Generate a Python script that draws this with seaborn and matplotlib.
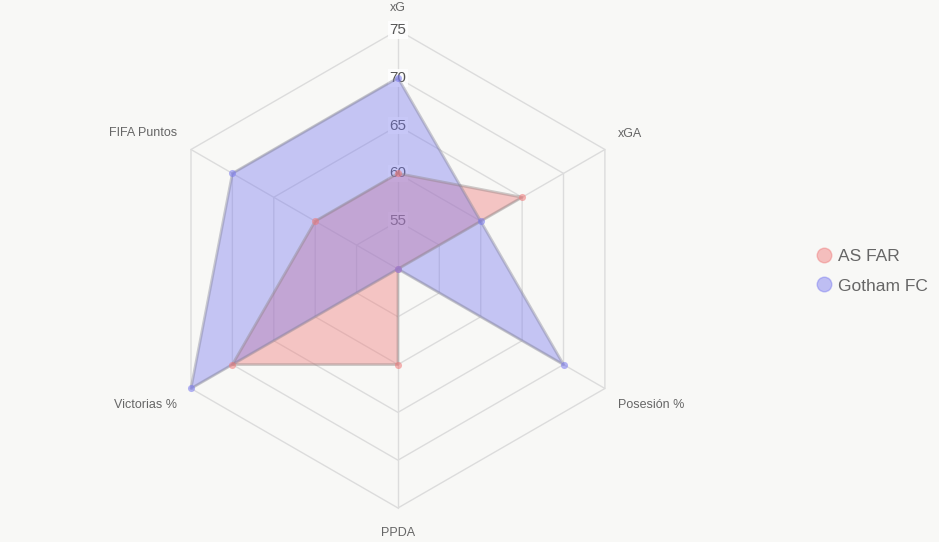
import numpy as np
import seaborn as sns
import matplotlib.pyplot as plt

sns.set_style('white')
plt.rcParams['font.family'] = ['Liberation Sans', 'DejaVu Sans']

# Data
metrics = ['xG', 'xGA', 'Posesión %', 'PPDA', 'Victorias %', 'FIFA Puntos']
as_far = [60, 65, 50, 60, 70, 60]
gotham = [70, 60, 70, 50, 75, 70]
teams = ['AS FAR', 'Gotham FC']
ring_ticks = [55, 60, 65, 70, 75]
r_min, r_max = 50, 75

fill_colors = [(240/255, 120/255, 120/255), (120/255, 120/255, 240/255)]
edge_colors = [(0.55, 0.5, 0.5), (0.5, 0.5, 0.58)]

bg = '#f8f8f6'
fig = plt.figure(figsize=(9.39, 5.42), dpi=100, facecolor=bg)
ax = fig.add_axes([0.1693, 0.0627, 0.509, 0.882], projection='polar')
ax.set_facecolor(bg)
ax.set_theta_zero_location('N')
ax.set_theta_direction(-1)
ax.set_ylim(r_min, r_max)
ax.grid(False)
ax.spines['polar'].set_visible(False)
ax.set_xticks([])
ax.set_yticks([])

n = len(metrics)
angles = np.arange(n) * 2 * np.pi / n
closed = np.append(angles, angles[0])

# hexagon grid
for r in ring_ticks:
    ax.plot(closed, [r] * (n + 1), color='#dcdcdc', lw=1, zorder=0, clip_on=False)
for a in angles:
    ax.plot([a, a], [r_min, r_max], color='#dcdcdc', lw=1, zorder=0, clip_on=False)

# ring tick labels
for r in ring_ticks:
    ax.text(0, r, str(r), ha='center', va='center', fontsize=11, color='#555555',
            zorder=1, bbox=dict(boxstyle='square,pad=0.12', fc='white', ec='none', alpha=0.85))

# series
for vals, name, fc, ec in zip([as_far, gotham], teams, fill_colors, edge_colors):
    v = np.append(vals, vals[0])
    ax.fill(closed, v, color=fc, alpha=0.4, zorder=2, label=name, lw=0, clip_on=False)
    ax.plot(closed, v, color=ec, alpha=0.4, lw=2, zorder=3, clip_on=False)
    ax.scatter(angles, vals, s=26, color=fc, alpha=0.55, linewidths=0, zorder=4, clip_on=False)

# axis labels
offsets = [(0, 22, 'center'), (13, 16, 'left'), (13, -17, 'left'),
           (0, -25, 'center'), (-14, -17, 'right'), (-14, 17, 'right')]
for a, lab, (dx, dy, ha) in zip(angles, metrics, offsets):
    ax.annotate(lab, xy=(a, r_max), xytext=(dx, dy), textcoords='offset pixels',
                ha=ha, va='center', fontsize=9, color='#666666', annotation_clip=False)

# legend
handles = [plt.Line2D([0], [0], marker='o', linestyle='none', markersize=10.5,
                      markerfacecolor=fc, markeredgecolor=fc, alpha=0.45)
           for fc in fill_colors]
leg = fig.legend(handles, teams, loc='center left', bbox_to_anchor=(0.85, 0.5),
                 frameon=False, fontsize=12.5, handletextpad=0.2, labelspacing=0.85,
                 handlelength=1.2)
for t in leg.get_texts():
    t.set_color('#666666')

plt.savefig('out.png', dpi=100, facecolor=bg)
